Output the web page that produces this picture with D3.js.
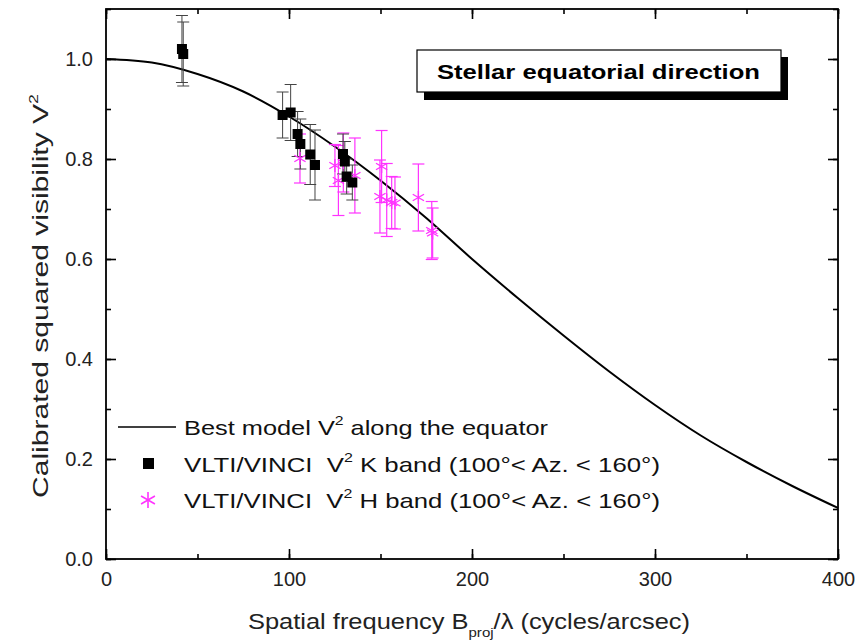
<!DOCTYPE html>
<html>
<head>
  <meta charset="UTF-8">
  <style>
    body { margin: 0; background: #fff; }
    text { font-family: "Liberation Sans", Arial, sans-serif; }
  </style>
  <script src="https://d3js.org/d3.v7.min.js"></script>
</head>
<body>
<svg id="chart" width="865" height="643"></svg>
<script>
// model curve
var modelX = [0, 25, 50, 75, 100, 125, 150, 175, 200, 225, 250, 275, 300, 325, 350, 375, 400];
var modelV2 = [1.0, 0.993, 0.970, 0.935, 0.885, 0.825, 0.757, 0.682, 0.600, 0.522, 0.447, 0.375, 0.308, 0.247, 0.194, 0.146, 0.102];

// K band points: frequency, V2, error
var kX = [41.5, 42.2, 96.5, 100.9, 104.7, 106.2, 111.6, 114.2, 129.5, 130.5, 131.5, 134.6];
var kV2 = [1.020, 1.010, 0.888, 0.893, 0.850, 0.830, 0.809, 0.788, 0.810, 0.795, 0.765, 0.753];
var kErr = [0.067, 0.064, 0.046, 0.056, 0.045, 0.050, 0.060, 0.070, 0.040, 0.040, 0.035, 0.035];

// H band points
var hX = [106.0, 125.1, 127.0, 129.7, 136.0, 149.7, 150.6, 153.4, 156.1, 157.9, 170.7, 178.0, 178.5];
var hV2 = [0.801, 0.787, 0.757, 0.793, 0.767, 0.725, 0.785, 0.718, 0.713, 0.712, 0.723, 0.657, 0.652];
var hErr = [0.049, 0.042, 0.070, 0.059, 0.075, 0.073, 0.072, 0.073, 0.052, 0.052, 0.067, 0.058, 0.050];

var xTicks = [0, 100, 200, 300, 400];
var yTicks = [0.0, 0.2, 0.4, 0.6, 0.8, 1.0];

var svg = d3.select("#chart");
var mLeft = 106, mRight = 838, mTop = 9, mBottom = 559;

var x = d3.scaleLinear().domain([0, 400]).range([mLeft, mRight]);
var y = d3.scaleLinear().domain([0, 1.1]).range([mBottom, mTop]);

var magenta = "#ff33ff";

// axes with inward ticks, mirrored on top/right
var minorX = d3.range(0, 401, 50), minorY = d3.range(0, 1.101, 0.1);
function tickAxis(axisFn, scale, minor, major, pos, labels) {
  var g = svg.append("g").attr("transform", pos);
  g.call(axisFn(scale).tickValues(minor).tickSize(-5).tickFormat(""));
  var g2 = svg.append("g").attr("transform", pos);
  g2.call(axisFn(scale).tickValues(major).tickSize(-10).tickPadding(13)
    .tickFormat(labels ? labels : ""));
  [g, g2].forEach(function(a) {
    a.select(".domain").remove();
    a.selectAll("line").attr("stroke", "#000").attr("stroke-width", 1.6);
    a.selectAll("text").attr("font-size", 20).attr("fill", "#222");
  });
  return g2;
}
tickAxis(d3.axisBottom, x, minorX, xTicks, "translate(0," + mBottom + ")", d3.format("d"));
tickAxis(d3.axisTop, x, minorX, xTicks, "translate(0," + mTop + ")", null);
tickAxis(d3.axisLeft, y, minorY, yTicks, "translate(" + mLeft + ",0)", d3.format(".1f"));
tickAxis(d3.axisRight, y, minorY, yTicks, "translate(" + mRight + ",0)", null);

svg.append("rect").attr("x", mLeft).attr("y", mTop)
  .attr("width", mRight - mLeft).attr("height", mBottom - mTop)
  .attr("fill", "none").attr("stroke", "#000").attr("stroke-width", 1.8);

// model line
var line = d3.line().x(function(d) { return x(d[0]); }).y(function(d) { return y(d[1]); })
  .curve(d3.curveMonotoneX);
svg.append("path").datum(d3.zip(modelX, modelV2))
  .attr("d", line).attr("fill", "none").attr("stroke", "#000").attr("stroke-width", 2);

function errBars(xs, vs, es, color, w) {
  var data = d3.zip(xs, vs, es);
  var g = svg.append("g").attr("stroke", color).attr("stroke-width", w).attr("fill", "none");
  data.forEach(function(d) {
    var cx = x(d[0]), y1 = y(d[1] + d[2]), y2 = y(d[1] - d[2]);
    g.append("line").attr("x1", cx).attr("x2", cx).attr("y1", y1).attr("y2", y2);
    g.append("line").attr("x1", cx - 6).attr("x2", cx + 6).attr("y1", y1).attr("y2", y1);
    g.append("line").attr("x1", cx - 6).attr("x2", cx + 6).attr("y1", y2).attr("y2", y2);
  });
}

function asterisk(g, cx, cy, r) {
  var a = [90, 30, 150];
  a.forEach(function(deg) {
    var t = deg * Math.PI / 180;
    g.append("line").attr("x1", cx - r * Math.cos(t)).attr("y1", cy - r * Math.sin(t))
      .attr("x2", cx + r * Math.cos(t)).attr("y2", cy + r * Math.sin(t));
  });
}

errBars(hX, hV2, hErr, magenta, 1.2);
errBars(kX, kV2, kErr, "#444", 1);

var hg = svg.append("g").attr("stroke", magenta).attr("stroke-width", 1.4);
d3.zip(hX, hV2).forEach(function(d) { asterisk(hg, x(d[0]), y(d[1]), 6.5); });

svg.append("g").selectAll("rect").data(d3.zip(kX, kV2)).enter().append("rect")
  .attr("x", function(d) { return x(d[0]) - 5; })
  .attr("y", function(d) { return y(d[1]) - 5; })
  .attr("width", 10).attr("height", 10).attr("fill", "#000");

// title box with shadow
svg.append("rect").attr("x", 424).attr("y", 57).attr("width", 364).attr("height", 43).attr("fill", "#000");
svg.append("rect").attr("x", 417).attr("y", 50).attr("width", 364).attr("height", 42)
  .attr("fill", "#fff").attr("stroke", "#000").attr("stroke-width", 1.2);
svg.append("text").attr("x", 437).attr("y", 79)
  .attr("font-size", 21).attr("font-weight", "bold")
  .attr("textLength", 323).attr("lengthAdjust", "spacingAndGlyphs")
  .text("Stellar equatorial direction");

// legend
var lg = svg.append("g").attr("font-size", 21).attr("fill", "#111");
var rows = [427, 464, 500];
lg.append("line").attr("x1", 118).attr("x2", 176).attr("y1", rows[0]).attr("y2", rows[0])
  .attr("stroke", "#000").attr("stroke-width", 1.6);
lg.append("rect").attr("x", 143).attr("y", rows[1] - 6).attr("width", 11).attr("height", 11).attr("fill", "#000");
var lgh = lg.append("g").attr("stroke", magenta).attr("stroke-width", 1.6);
asterisk(lgh, 148, rows[2], 8);

function legendText(yy, pre, post, len) {
  var t = lg.append("text").attr("x", 184).attr("y", yy + 8)
    .attr("textLength", len).attr("lengthAdjust", "spacingAndGlyphs");
  t.append("tspan").text(pre);
  t.append("tspan").attr("font-size", 13).attr("dy", -10).text("2");
  t.append("tspan").attr("dy", 10).text(post);
}
legendText(rows[0], "Best model V", " along the equator", 364);
legendText(rows[1], "VLTI/VINCI\u00a0\u00a0V", " K band (100°< Az. < 160°)", 476);
legendText(rows[2], "VLTI/VINCI\u00a0\u00a0V", " H band (100°< Az. < 160°)", 476);

// axis titles
var xl = svg.append("text").attr("x", 248).attr("y", 629)
  .attr("font-size", 22).attr("fill", "#222")
  .attr("textLength", 442).attr("lengthAdjust", "spacingAndGlyphs");
xl.append("tspan").text("Spatial frequency B");
xl.append("tspan").attr("font-size", 13).attr("dy", 8).text("proj");
xl.append("tspan").attr("dy", -8).text("/λ (cycles/arcsec)");

var yl = svg.append("text").attr("transform", "translate(48,498) rotate(-90)")
  .attr("font-size", 22).attr("fill", "#222")
  .attr("textLength", 404).attr("lengthAdjust", "spacingAndGlyphs");
yl.append("tspan").text("Calibrated squared visibility V");
yl.append("tspan").attr("font-size", 13).attr("dy", -10).text("2");
</script>
</body>
</html>
